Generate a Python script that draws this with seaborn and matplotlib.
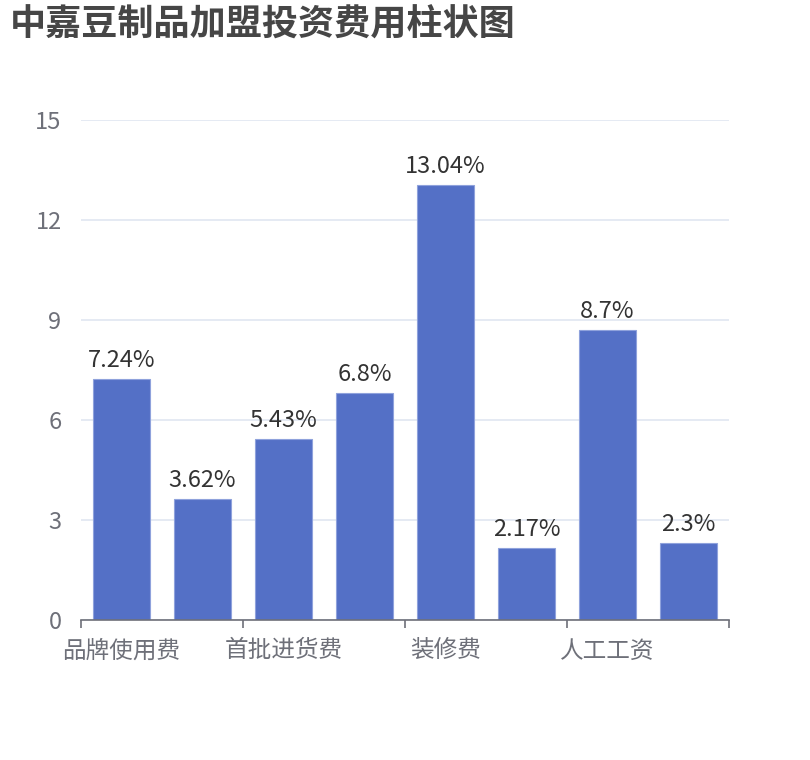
import matplotlib
matplotlib.use("Agg")
import matplotlib.pyplot as plt
import seaborn as sns
import pandas as pd

categories = ["品牌使用费", "加盟保证金", "首批进货费", "设备费用", "装修费", "房租费用", "人工工资", "其他费用"]
values = [7.24, 3.62, 5.43, 6.8, 13.04, 2.17, 8.7, 2.3]
value_labels = ["7.24%", "3.62%", "5.43%", "6.8%", "13.04%", "2.17%", "8.7%", "2.3%"]
y_ticks = [0, 3, 6, 9, 12, 15]
title = "中嘉豆制品加盟投资费用柱状图"

sns.set_theme(style="white")
plt.rcParams["font.family"] = ["Noto Sans CJK SC", "DejaVu Sans"]

fig = plt.figure(figsize=(8.1, 7.6), dpi=100)
ax = fig.add_axes([0.1, 0.1842, 0.8, 0.6579])

df = pd.DataFrame({"cat": categories, "val": values})
sns.barplot(data=df, x="cat", y="val", color="#5470c6", saturation=1, width=0.7,
            edgecolor="#8fa2dc", linewidth=0.8, ax=ax, zorder=3)

ax.set_xlim(-0.5, len(categories) - 0.5)
ax.set_ylim(0, 15)
ax.set_yticks(y_ticks)
ax.set_yticklabels([str(t) for t in y_ticks], color="#6e7079", fontsize=17)
ax.tick_params(axis="y", length=0, pad=14)
ax.yaxis.grid(True, color="#e0e6f1", linewidth=1.2, zorder=0)
ax.set_axisbelow(True)

# ticks at boundaries every 2 categories, labels at every other category
ax.set_xticks([-0.5, 1.5, 3.5, 5.5, 7.5])
ax.set_xticklabels([])
ax.tick_params(axis="x", which="major", bottom=True, length=6, width=1.2,
               color="#6e7079", direction="out")
ax.set_xticks(list(range(0, len(categories), 2)), minor=True)
ax.set_xticklabels([categories[i] for i in range(0, len(categories), 2)], minor=True,
                   color="#6e7079", fontsize=17)
ax.tick_params(axis="x", which="minor", bottom=True, length=0, pad=14)

for s in ["top", "right", "left"]:
    ax.spines[s].set_visible(False)
ax.spines["bottom"].set_color("#6e7079")
ax.spines["bottom"].set_linewidth(1.2)
ax.spines["bottom"].set_zorder(4)
ax.set_xlabel("")
ax.set_ylabel("")

ax.bar_label(ax.containers[0], labels=value_labels, padding=5, fontsize=17, color="#333333")

fig.text(0.012, 0.967, title, fontsize=26, fontweight="bold", color="#464646", va="center", ha="left")

fig.savefig("out.png", dpi=100, facecolor="white")
